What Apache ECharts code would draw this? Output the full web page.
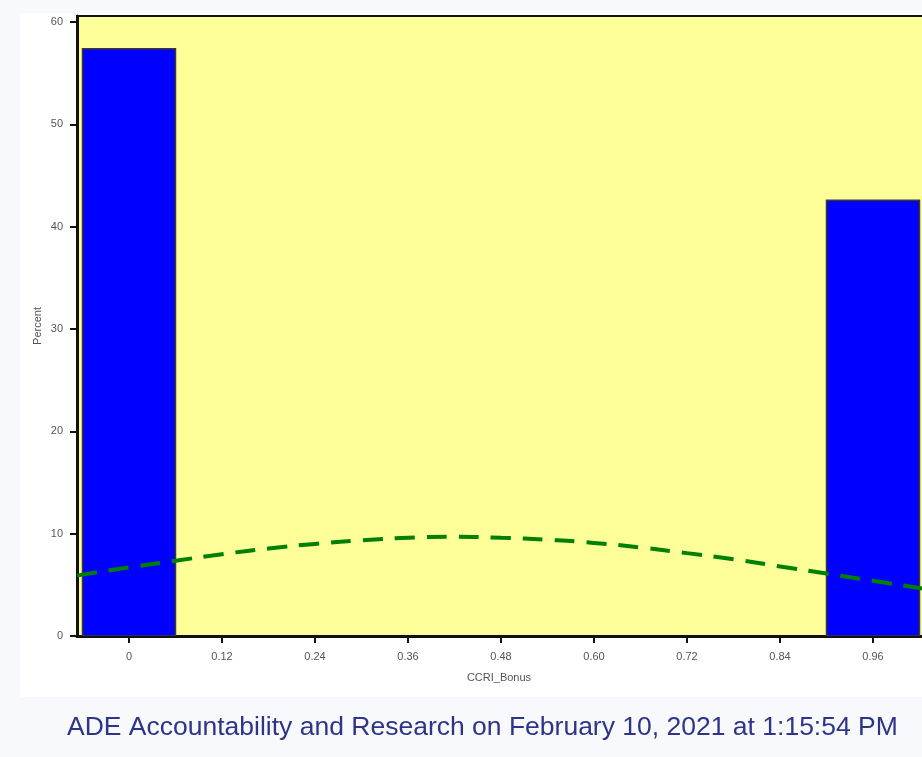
<!DOCTYPE html>
<html>
<head>
<meta charset="utf-8">
<script src="https://cdn.jsdelivr.net/npm/echarts@6/dist/echarts.min.js"></script>
<style>
  html, body { margin: 0; padding: 0; background: #f8f9fd; overflow: hidden; }
  #chart { width: 945px; height: 757px; }
</style>
</head>
<body>
<div id="chart"></div>
<script>
// Histogram bins (midpoints) and percents
const binMidpoints = [0, 0.96];
const binWidth = 0.12;
const percents = [57.4, 42.6];

// Normal density curve (x, percent)
const curveX = [-0.067, -0.06, 0, 0.06, 0.12, 0.18, 0.24, 0.30, 0.36, 0.42, 0.48, 0.54, 0.60, 0.66, 0.72, 0.78, 0.84, 0.90, 0.96, 1.02, 1.04];
const curveY = [5.9, 6.0, 6.7, 7.35, 8.0, 8.55, 9.0, 9.35, 9.6, 9.7, 9.6, 9.4, 9.1, 8.65, 8.1, 7.5, 6.8, 6.1, 5.4, 4.7, 4.5];

// Axis ticks
const xTickValues = [0, 0.12, 0.24, 0.36, 0.48, 0.60, 0.72, 0.84, 0.96];
const xTickLabels = ['0', '0.12', '0.24', '0.36', '0.48', '0.60', '0.72', '0.84', '0.96'];
const yTickValues = [0, 10, 20, 30, 40, 50, 60];
const yTickLabels = ['0', '10', '20', '30', '40', '50', '60'];

const footerText = 'ADE Accountability and Research on February 10, 2021 at 1:15:54 PM';

const chart = echarts.init(document.getElementById('chart'));

const barData = binMidpoints.map((m, i) => [m - binWidth / 2, m + binWidth / 2, percents[i]]);
const lineData = curveX.map((x, i) => [x, curveY[i]]);

function labelFor(values, labels, v) {
  for (let i = 0; i < values.length; i++) {
    if (Math.abs(values[i] - v) < 1e-6) return labels[i];
  }
  return '';
}

const font = 'Liberation Sans, Arial, sans-serif';

const option = {
  backgroundColor: '#f8f9fd',
  animation: false,
  graphic: [{
    type: 'rect',
    z: -10,
    silent: true,
    shape: { x: 20, y: 13, width: 930, height: 684 },
    style: { fill: '#ffffff' }
  }],
  title: {
    text: footerText,
    left: 62,
    top: 709,
    textStyle: {
      fontFamily: font,
      fontSize: 26.5,
      fontWeight: 'normal',
      color: '#2e3588'
    }
  },
  grid: {
    left: 77,
    top: 16,
    right: 10,
    bottom: 121,
    show: true,
    backgroundColor: '#ffff99',
    borderColor: '#111',
    borderWidth: 2
  },
  xAxis: {
    type: 'value',
    min: -0.0671,
    max: 1.04,
    name: 'CCRI_Bonus',
    nameLocation: 'middle',
    nameGap: 36,
    nameTextStyle: { fontFamily: font, fontSize: 11, color: '#555', padding: [0, 14, 0, 0] },
    splitLine: { show: false },
    axisLine: { show: true, onZero: false, lineStyle: { color: '#111', width: 3 } },
    axisTick: { show: true, length: 7, customValues: xTickValues, lineStyle: { color: '#111', width: 2 } },
    axisLabel: {
      customValues: xTickValues,
      margin: 15,
      fontFamily: font,
      fontSize: 11,
      color: '#555',
      formatter: v => labelFor(xTickValues, xTickLabels, v)
    }
  },
  yAxis: {
    type: 'value',
    min: 0,
    max: 60.6,
    name: 'Percent',
    nameLocation: 'middle',
    nameGap: 34,
    nameMoveOverlap: false,
    nameRotate: 90,
    nameTextStyle: { fontFamily: font, fontSize: 11, color: '#555' },
    splitLine: { show: false },
    axisLine: { show: true, onZero: false, lineStyle: { color: '#111', width: 3 } },
    axisTick: { show: true, length: 7, customValues: yTickValues, lineStyle: { color: '#111', width: 2 } },
    axisLabel: {
      customValues: yTickValues,
      margin: 14,
      fontFamily: font,
      fontSize: 11,
      color: '#555',
      formatter: v => labelFor(yTickValues, yTickLabels, v)
    }
  },
  series: [
    {
      type: 'custom',
      clip: true,
      data: barData,
      encode: { x: [0, 1], y: 2 },
      renderItem: function (params, api) {
        const p0 = api.coord([api.value(0), api.value(2)]);
        const p1 = api.coord([api.value(1), 0]);
        return {
          type: 'rect',
          shape: { x: p0[0], y: p0[1], width: p1[0] - p0[0], height: p1[1] - p0[1] },
          style: { fill: '#0000ff', stroke: '#3a3a2a', lineWidth: 1.5 }
        };
      },
      z: 2
    },
    {
      type: 'line',
      data: lineData,
      smooth: true,
      showSymbol: false,
      symbol: 'none',
      clip: true,
      lineStyle: { color: '#008000', width: 4, type: [20, 12], cap: 'butt' },
      z: 3
    }
  ]
};

chart.setOption(option);
</script>
</body>
</html>
